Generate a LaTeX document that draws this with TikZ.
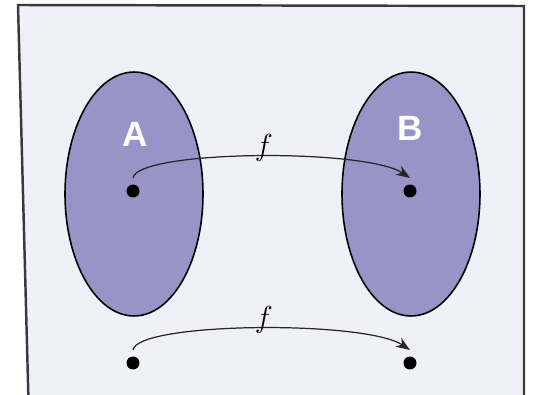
\documentclass[tikz,border=0pt]{standalone}
\usepackage{fontspec}
\usepackage{tikz}
\usetikzlibrary{shapes.geometric,arrows.meta,positioning}
\newfontfamily\labfont{Liberation Sans}
\definecolor{paper}{RGB}{240,240,248}
\definecolor{setfill}{RGB}{152,148,200}
\definecolor{edge}{RGB}{58,58,62}

\begin{document}
\begin{tikzpicture}[
  x=0.02cm,y=-0.02cm,
  setnode/.style={ellipse,draw=black,line width=0.9pt,fill=setfill,minimum width=2.76cm,minimum height=4.88cm,inner sep=0pt},
  setlab/.style={text=white,font=\labfont\fontsize{20}{22}\selectfont\bfseries,inner sep=0pt},
  dot/.style={circle,fill=black,inner sep=0pt,minimum size=0.26cm,outer sep=0.13cm},
  map/.style={line width=0.7pt,draw=black!85,-{Stealth[length=8pt,width=6pt]}},
  flab/.style={font=\fontsize{18}{20}\selectfont,inner sep=0pt,anchor=south,yshift=-3pt}]

% --- page and slanted frame ---
\clip (0,0) rectangle (535,395);
\fill[white] (0,0) rectangle (535,395);
\draw[edge,line width=1.4pt,fill=paper] (18,5) -- (524,6) -- (524,420) -- (29,420) -- cycle;

% --- the two sets ---
\node[setnode] (setA) at (134,194) {};
\node[setnode] (setB) at (411,194) {};
\node[setlab] (labA) at (135,134) {A};
\node[setlab] (labB) at (410,128) {B};

% --- points: one pair inside the sets, one pair below ---
\node[dot] (a1) at (133,191) {};
\node[dot] (b1) at (410,191) {};
\node[dot] (a2) at (133,363) {};
\node[dot] (b2) at (410,363) {};

% --- the map f ---
\draw[map] (a1.north) .. controls (137,150) and (365,148) .. (b1.north)
  node[flab,pos=0.52] {$f$};
\draw[map] (a2.north) .. controls (137,322) and (365,320) .. (b2.north)
  node[flab,pos=0.52] {$f$};
\end{tikzpicture}
\end{document}
